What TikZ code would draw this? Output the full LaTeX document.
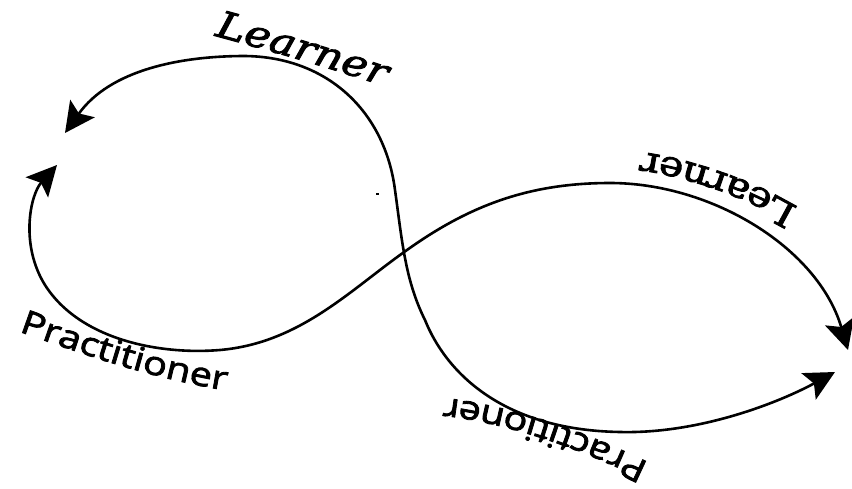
\documentclass[tikz,border=0pt]{standalone}
\usepackage{fontspec}
\usetikzlibrary{arrows.meta,decorations.text}
\newfontfamily\lrnfont[FakeStretch=1.18,FakeBold=2.5]{DejaVu Serif}
\newfontfamily\prcfont[FakeStretch=1.2,FakeBold=2.5]{Open Sans}
\tikzset{
  loop/.style={line width=2.6pt, line cap=round,
    arrows={Stealth[length=30pt,width=30pt,inset=6pt]-Stealth[length=30pt,width=30pt,inset=6pt]}},
  lbl/.style={decorate, decoration={text along path, text align=center, text={#1}}}
}
\begin{document}
\begin{tikzpicture}[x=1pt,y=-1pt]
\useasboundingbox (0,0) rectangle (852,488);
% named points
\coordinate (a0) at (65,133);
\coordinate (atop) at (245,56);
\coordinate (a2) at (395,190);
\coordinate (a3) at (425,320);
\coordinate (abot) at (620,432);
\coordinate (a5) at (835,372);
\coordinate (b0) at (57,165);
\coordinate (b1) at (45,285);
\coordinate (bbot) at (220,350);
\coordinate (x) at (407,250);
\coordinate (btop) at (610,183);
\coordinate (b5) at (848,350);
% curve A: Learner (top left) -> Practitioner (bottom right)
\draw[loop] (a0) .. controls (110,70) and (180,56) .. (atop)
  .. controls (328,57) and (385,112) .. (a2)
  .. controls (402,240) and (405,280) .. (a3)
  .. controls (445,370) and (500,430) .. (abot)
  .. controls (700,434) and (780,402) .. (a5);
% curve B: Practitioner (left) -> Learner (right)
\draw[loop] (b0) .. controls (30,195) and (20,245) .. (b1)
  .. controls (80,340) and (160,355) .. (bbot)
  .. controls (300,343) and (350,290) .. (x)
  .. controls (470,205) and (530,183) .. (btop)
  .. controls (712,183) and (818,248) .. (b5);
% stray dot
\fill (375.5,193) rectangle (379,195);
% labels
\path[lbl={|\lrnfont\itshape\fontsize{37}{44}\selectfont|Learner}]
  (208,34) .. controls (268,50) and (330,68) .. (390,88);
\path[lbl={|\lrnfont\fontsize{35}{42}\selectfont|Learner}]
  (812,216) .. controls (770,188) and (700,158) .. (626,150);
\path[lbl={|\prcfont\fontsize{33}{40}\selectfont|Practitioner}]
  (9,328) .. controls (80,353) and (150,379) .. (236,392);
\path[lbl={|\prcfont\fontsize{33}{40}\selectfont|Practitioner}]
  (666,471) .. controls (604,440) and (520,404) .. (426,396);
\end{tikzpicture}
\end{document}
